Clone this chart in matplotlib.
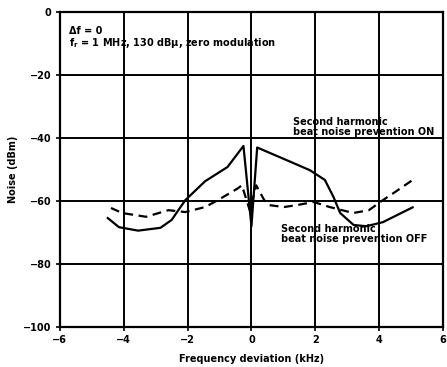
import numpy as np
import matplotlib.pyplot as plt

plt.rcParams['font.family'] = ['DejaVu Sans']

# Solid curve
on_x = [-4.5, -4.15, -3.55, -2.85, -2.5, -2.07, -1.45, -0.75, -0.25, 0.0, 0.18, 1.1, 1.83, 2.3, 2.57, 2.78, 3.2, 3.6, 4.12, 5.05]
on_y = [-65.4, -68.3, -69.4, -68.5, -66.0, -59.7, -53.7, -49.2, -42.5, -68.0, -43.0, -47.0, -50.2, -53.3, -58.7, -63.8, -67.6, -68.0, -66.7, -62.0]

# Dashed curve
off_x = [-4.4, -4.05, -3.3, -2.6, -2.07, -1.45, -1.05, -0.43, -0.3, -0.05, 0.15, 0.4, 0.56, 1.02, 1.42, 1.95, 2.45, 3.19, 3.68, 4.12, 4.52, 5.05]
off_y = [-62.2, -63.8, -65.0, -62.9, -63.5, -61.9, -59.7, -56.0, -55.0, -63.0, -55.0, -59.7, -61.3, -61.9, -61.3, -60.3, -61.9, -63.8, -62.9, -59.7, -57.0, -53.3]

xticks = [-6, -4, -2, 0, 2, 4, 6]
yticks = [0, -20, -40, -60, -80, -100]

fig = plt.figure(figsize=(4.47, 3.67), dpi=100)
ax = fig.add_axes([0.134, 0.109, 0.857, 0.858])

ax.plot(on_x, on_y, color='black', lw=1.6)
ax.plot(off_x, off_y, color='black', lw=1.6, ls=(0, (4, 2.5)))

ax.set_xlim(-6, 6)
ax.set_ylim(-100, 0)
ax.set_xticks(xticks)
ax.set_yticks(yticks)
ax.set_xticklabels(['\u2212' + str(-t) if t < 0 else str(t) for t in xticks],
                   fontsize=7, fontweight='bold')
ax.set_yticklabels(['\u2212' + str(-t) if t < 0 else str(t) for t in yticks],
                   fontsize=7, fontweight='bold')
ax.grid(True, color='black', lw=1.4)
ax.tick_params(length=3, width=1.2, pad=3)
for s in ax.spines.values():
    s.set_linewidth(1.6)

ax.set_xlabel('Frequency deviation (kHz)', fontsize=7, fontweight='bold', labelpad=6)
ax.set_ylabel('Noise (dBm)', fontsize=7, fontweight='bold', labelpad=4)

ax.text(0.025, 0.955, '\u0394f = 0\n$\\mathbf{f_r}$ = 1 MHz, 130 dB\u03bc, zero modulation',
        transform=ax.transAxes, fontsize=7, fontweight='bold', va='top',
        linespacing=1.0)
ax.text(1.3, -36.5, 'Second harmonic\nbeat noise prevention ON',
        fontsize=7, fontweight='bold', va='center', linespacing=1.0)
ax.text(0.93, -70.5, 'Second harmonic\nbeat noise prevention OFF',
        fontsize=7, fontweight='bold', va='center', linespacing=1.0)

fig.savefig('out.png', dpi=100)
